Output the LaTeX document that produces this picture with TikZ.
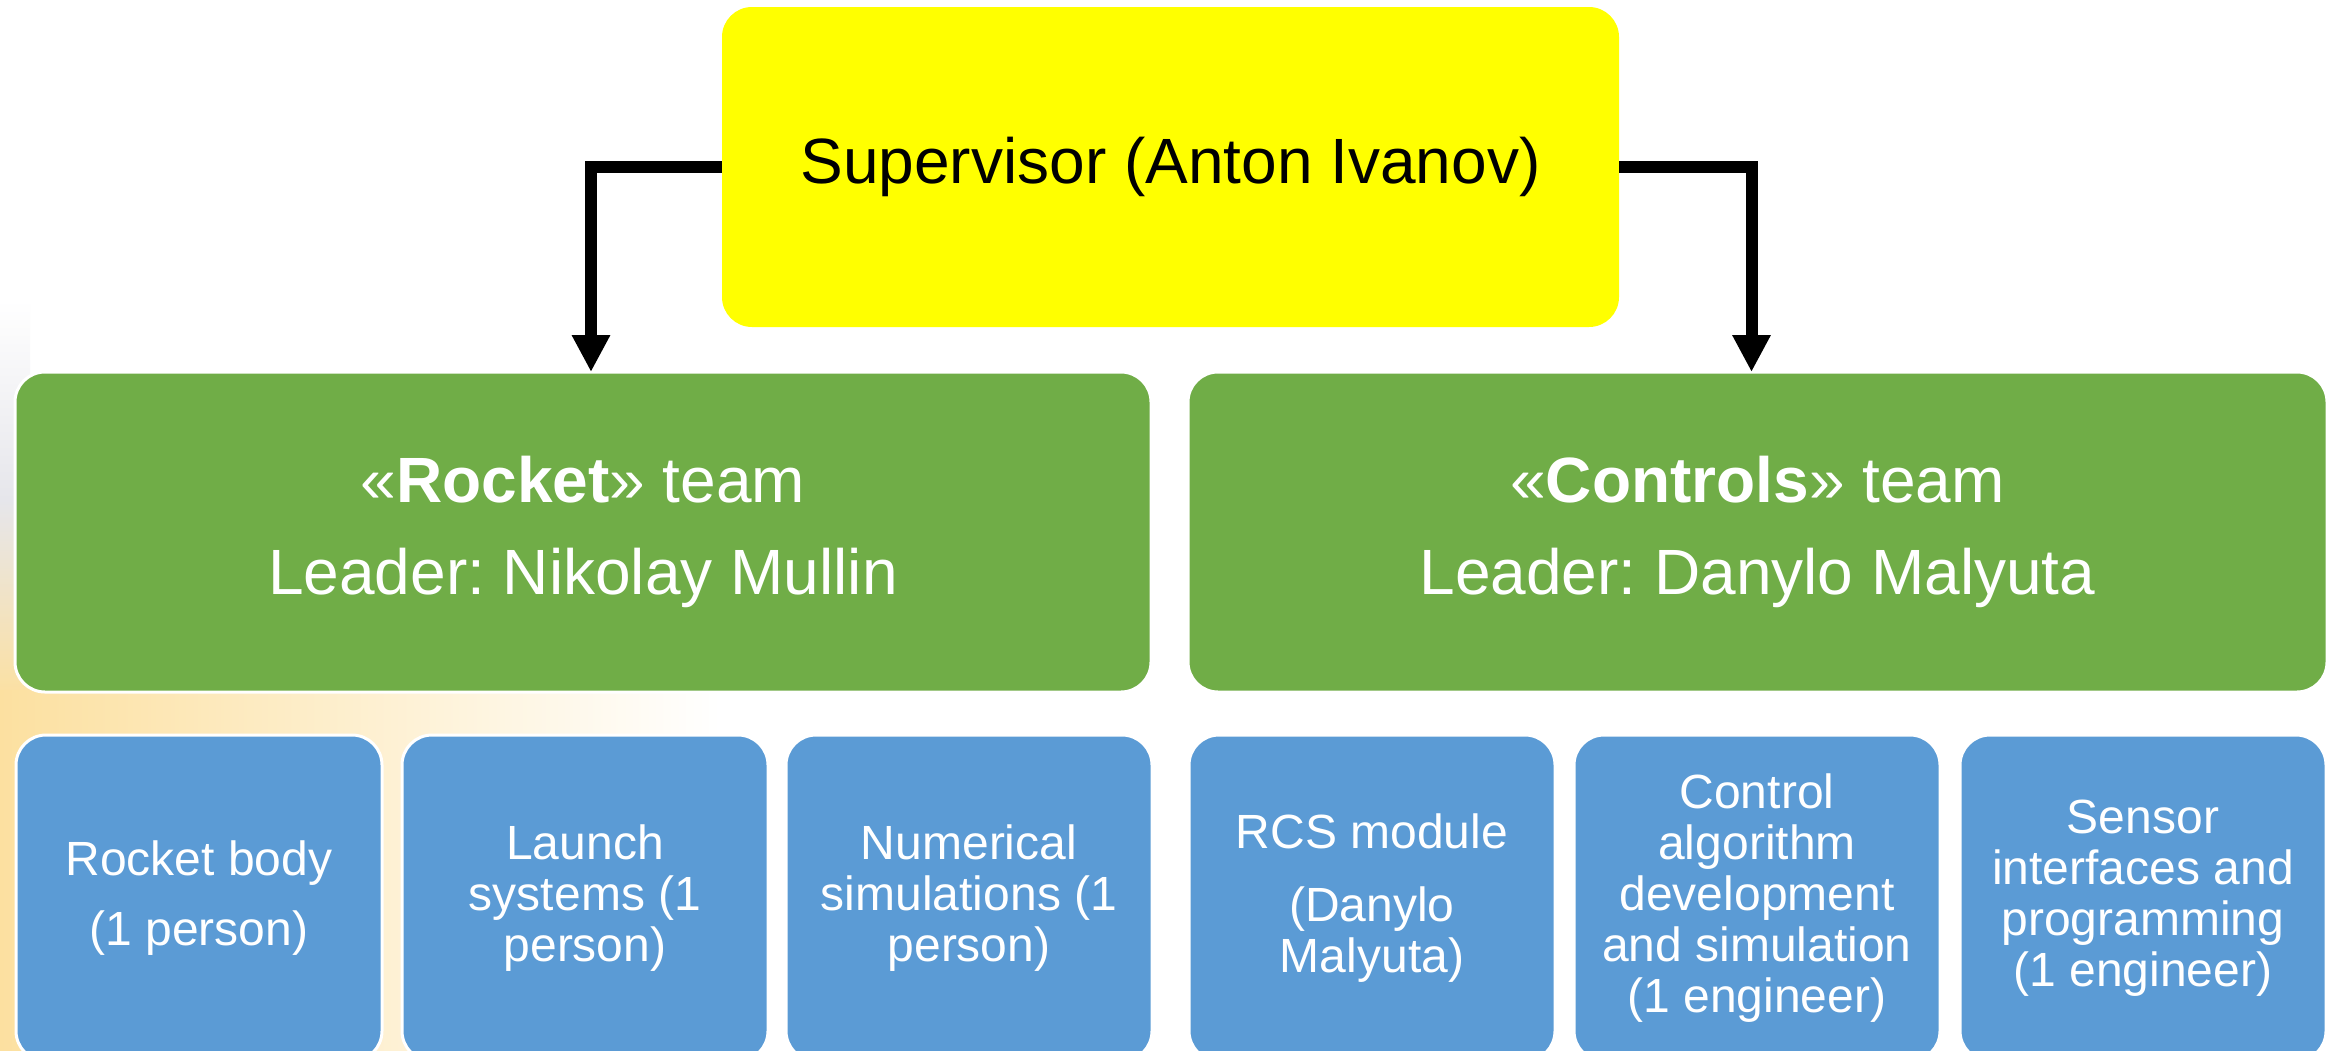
\documentclass[tikz,border=0pt]{standalone}
\usepackage{fontspec}
\setmainfont{Liberation Sans}
\usetikzlibrary{arrows.meta}
\definecolor{supyellow}{RGB}{255,255,0}
\definecolor{teamgreen}{RGB}{112,173,71}
\definecolor{taskblue}{RGB}{91,155,213}
\definecolor{bgorange}{RGB}{252,224,160}
\definecolor{bggrey}{RGB}{230,230,235}
\frenchspacing
\begin{document}
\begin{tikzpicture}[x=1pt,y=-1pt,
  box/.style={rectangle, rounded corners=30pt, draw=white, line width=3pt,
    inner sep=0pt, outer sep=0pt, align=center, anchor=north west},
  supbox/.style={box, fill=supyellow, draw=none, text=black,
    minimum width=897pt, minimum height=320pt,
    font=\fontsize{64}{76}\selectfont},
  teambox/.style={box, fill=teamgreen, text=white,
    minimum height=320pt, font=\fontsize{64}{92}\selectfont},
  taskbox/.style={box, fill=taskblue, text=white,
    minimum width=366pt, minimum height=326pt,
    font=\fontsize{48}{51}\selectfont},
  link/.style={line width=12pt, black, -{Triangle[width=36pt,length=37pt]}}
]
\clip (0,0) rectangle (2335,1050);
\fill[white] (0,0) rectangle (2335,1050);
% faint background at the left
\shade[top color=white, bottom color=bggrey] (0,300) rectangle (30,500);
\shade[top color=bggrey, bottom color=bgorange] (0,500) rectangle (30,700);
\shade[left color=bgorange, middle color=bgorange!45, right color=white] (0,690) rectangle (720,1050);

% boxes
\node[supbox] (sup) at (722,7) {Supervisor (Anton Ivanov)};

\node[teambox, minimum width=1136pt] (rocket) at (15,372)
  {«\textbf{Rocket}» team\\Leader: Nikolay Mullin};
\node[teambox, minimum width=1139pt] (controls) at (1188,372)
  {«\textbf{Controls}» team\\Leader: Danylo Malyuta};

\node[taskbox] (body) at (16,735) {Rocket body\\[19pt](1 person)};
\node[taskbox] (launch) at (402,735) {Launch\\systems (1\\person)};
\node[taskbox] (numsim) at (786,735) {Numerical\\simulations (1\\person)};
\node[taskbox] (rcs) at (1189,735) {RCS module\\[22pt](Danylo\\Malyuta)};
\node[taskbox] (ctrl) at (1574,735)
  {Control\\algorithm\\development\\and simulation\\(1 engineer)};
\node[taskbox] (sensor) at (1960,735)
  {Sensor\\interfaces and\\programming\\(1 engineer)};

% connectors
\draw[link] (sup.west) -| ([xshift=8pt]rocket.north);
\draw[link] (sup.east) -| ([xshift=-6pt]controls.north);
\end{tikzpicture}
\end{document}
